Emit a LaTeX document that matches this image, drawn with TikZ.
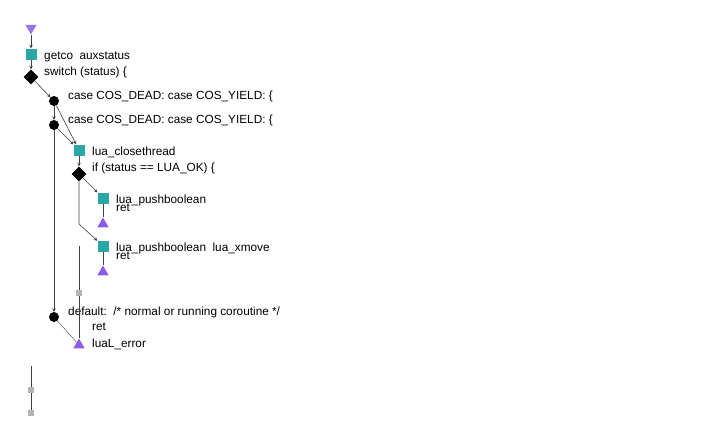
\documentclass[tikz,border=0pt]{standalone}
\usepackage{fontspec}
\setmainfont{Liberation Sans}
\usetikzlibrary{shapes.geometric,arrows.meta}

\definecolor{blockteal}{HTML}{2CA5A5}
\definecolor{exitpurple}{HTML}{8B5CE6}
\definecolor{joingray}{HTML}{B4B4B4}

\begin{document}
\begin{tikzpicture}[x=1pt,y=-1pt,
  blockbox/.style={rectangle,fill=blockteal,minimum size=11pt,inner sep=0pt},
  decide/.style={diamond,fill=black,minimum size=15pt,inner sep=0pt},
  casedot/.style={circle,fill=black,minimum size=10pt,inner sep=0pt},
  exitmark/.style={regular polygon,regular polygon sides=3,fill=exitpurple,minimum size=13pt,inner sep=0pt},
  joinmark/.style={rectangle,fill=joingray,minimum size=6.5pt,inner sep=0pt},
  lbl/.style={anchor=base west,inner sep=0pt,font=\fontsize{11.8}{12}\selectfont},
  flow/.style={draw=black!75,line width=0.6pt,-{Stealth[length=3.5pt,width=3.5pt]}},
  plain/.style={draw=black!75,line width=0.6pt}]
  \useasboundingbox (0,0) rectangle (720,440);
  % marks
  \node[exitmark,shape border rotate=180,fill=exitpurple!85] (entry) at (31,28) {};
  \node[blockbox] (getco) at (31,54) {};
  \node[decide] (switch) at (31,77) {};
  \node[casedot] (case1) at (54,101) {};
  \node[casedot] (case2) at (54,125) {};
  \node[blockbox] (close) at (79,150) {};
  \node[decide] (ifok) at (79,174) {};
  \node[blockbox] (push1) at (103,198) {};
  \node[exitmark] (ret1) at (103,224) {};
  \node[blockbox] (push2) at (103,246) {};
  \node[exitmark] (ret2) at (103,272) {};
  \node[joinmark] (join1) at (79,293) {};
  \node[casedot] (dflt) at (54,317) {};
  \node[exitmark] (err) at (79,345) {};
  \node[joinmark] (join2) at (31,390) {};
  \node[joinmark] (join3) at (31,413) {};
  \coordinate (loopin) at (79,246);
  \coordinate (tailin) at (31,366);
  % texts
  \node[lbl] (t-getco) at (44,59) {getco\ \ auxstatus};
  \node[lbl] (t-switch) at (44,75) {switch (status) \{};
  \node[lbl] (t-case1) at (68,99) {case COS\_DEAD: case COS\_YIELD: \{};
  \node[lbl] (t-case2) at (68,123) {case COS\_DEAD: case COS\_YIELD: \{};
  \node[lbl] (t-close) at (92,155) {lua\_closethread};
  \node[lbl] (t-ifok) at (92,171) {if (status == LUA\_OK) \{};
  \node[lbl] (t-push1) at (116,203) {lua\_pushboolean};
  \node[lbl] (t-ret1) at (116,211) {ret};
  \node[lbl] (t-push2) at (116,251) {lua\_pushboolean\ \ lua\_xmove};
  \node[lbl] (t-ret2) at (116,259) {ret};
  \node[lbl] (t-dflt) at (68,315) {default:\ \ /* normal or running coroutine */};
  \node[lbl] (t-ret3) at (92,330) {ret};
  \node[lbl] (t-err) at (92,347) {luaL\_error};
  % edges
  \draw[flow] (entry) -- (getco);
  \draw[flow] (getco) -- (switch);
  \draw[flow] (switch) -- (case1);
  \draw[flow] (case1) -- (case2);
  \draw[flow] (case1) -- (close);
  \draw[flow] (case2) -- (close);
  \draw[flow] (case2) -- (dflt);
  \draw[flow] (close) -- (ifok);
  \draw[flow] (ifok) -- (push1);
  \draw[plain] (push1) -- (ret1);
  \draw[flow] (ifok) -- (ifok |- 0,224) -- (push2);
  \draw[plain] (push2) -- (ret2);
  \draw[plain] (loopin) -- (join1) -- (err);
  \draw[plain,line width=0.4pt] (dflt) -- (err);
  \draw[plain] (tailin) -- (join2) -- (join3);
\end{tikzpicture}
\end{document}
